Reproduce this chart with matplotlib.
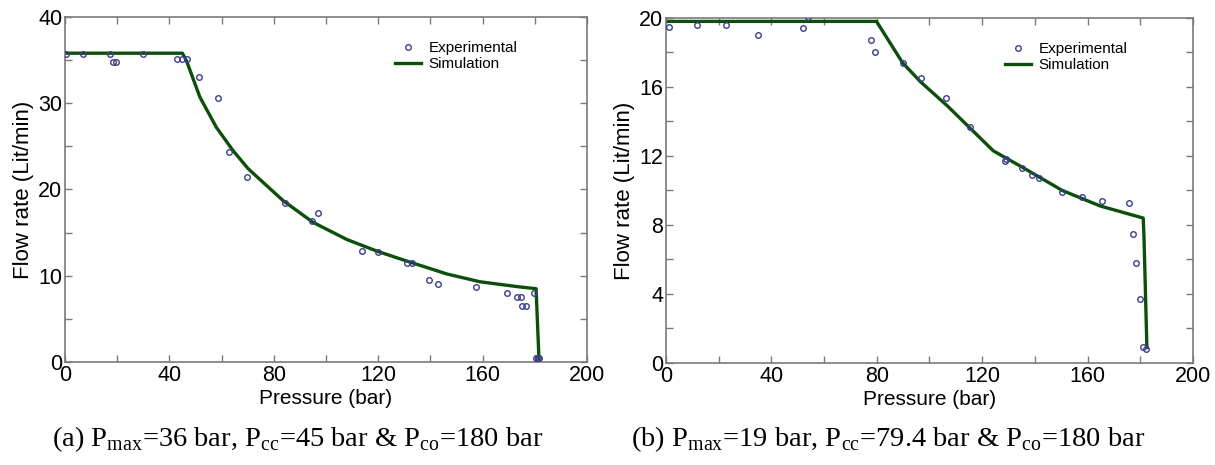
import numpy as np
import matplotlib.pyplot as plt
from matplotlib.ticker import MultipleLocator

plt.rcParams['font.family'] = ['Liberation Sans', 'DejaVu Sans']
plt.rcParams['mathtext.fontset'] = 'custom'
plt.rcParams['mathtext.rm'] = 'Liberation Serif'

# (a) Pmax=36 bar
exp_a_p = [0.4, 7, 17.2, 18.4, 19.5, 30, 42.9, 44.8, 46.7, 51.5, 58.5, 62.7, 69.6, 84.3,
           94.6, 97, 113.8, 120, 131, 133, 139.5, 142.9, 157.5, 169.3, 173.2, 174.7,
           175.1, 176.6, 179.7, 180.6, 181.2, 181.8]
exp_a_q = [35.7, 35.7, 35.7, 34.8, 34.8, 35.7, 35.1, 35.1, 35.1, 33.0, 30.6, 24.3, 21.5, 18.4,
           16.3, 17.3, 12.9, 12.8, 11.5, 11.5, 9.5, 9.0, 8.7, 8.0, 7.5, 7.5,
           6.5, 6.5, 8.0, 0.5, 0.5, 0.5]
sim_a_p = [0, 45, 46.7, 51.7, 58, 64.4, 70.2, 83.6, 95, 108, 120, 133, 146.4, 159, 174.3, 180.5, 181.6]
sim_a_q = [35.8, 35.8, 34.8, 30.7, 27.2, 24.5, 22.4, 18.7, 16.2, 14.2, 12.8, 11.5, 10.2, 9.3, 8.7, 8.5, 0.4]

# (b) Pmax=19 bar
exp_b_p = [1, 11.6, 22.7, 34.8, 51.9, 53.8, 78, 79.5, 89.8, 96.6, 106.4, 115.2, 128.8, 129.2,
           135.2, 139, 141.7, 150.4, 158, 165.5, 175.8, 177.3, 178.4, 179.9, 181.1, 182]
exp_b_q = [19.5, 19.6, 19.6, 19.0, 19.4, 20.05, 18.7, 18.0, 17.4, 16.5, 15.35, 13.7, 11.7, 11.8,
           11.3, 10.9, 10.7, 9.9, 9.6, 9.4, 9.3, 7.5, 5.8, 3.7, 0.9, 0.8]
sim_b_p = [0, 79.9, 89.8, 96.6, 106.8, 115.5, 124.2, 135.2, 150.4, 164.8, 181.1, 181.4, 182.5]
sim_b_q = [19.8, 19.8, 17.4, 16.3, 14.9, 13.6, 12.3, 11.35, 10.0, 9.1, 8.4, 7.3, 0.9]

captions = [r'(a) P$_{\mathrm{max}}$=36 bar, P$_{\mathrm{cc}}$=45 bar & P$_{\mathrm{co}}$=180 bar',
            r'(b) P$_{\mathrm{max}}$=19 bar, P$_{\mathrm{cc}}$=79.4 bar & P$_{\mathrm{co}}$=180 bar']

green = '#0b4f0b'
blue = '#3c3c8c'
grey = '#7a7a7a'

fig = plt.figure(figsize=(12.15, 4.65), dpi=100)
ax1 = fig.add_axes([0.0535, 0.2215, 0.4296, 0.742])
ax2 = fig.add_axes([0.5481, 0.2194, 0.4338, 0.742])

setup = [
    (ax1, exp_a_p, exp_a_q, sim_a_p, sim_a_q, 40, 10, 5, 0.632),
    (ax2, exp_b_p, exp_b_q, sim_b_p, sim_b_q, 20, 4, 2, 0.643),
]

for ax, ep, eq, sp, sq, ymax, ymaj, ymin, lgx in setup:
    ax.plot(ep, eq, linestyle='none', marker='o', markersize=4, mfc='none',
            mec=blue, mew=1.0, label='Experimental', zorder=3)
    ax.plot(sp, sq, color=green, lw=2.4, label='Simulation', zorder=2)
    ax.set_xlim(0, 200)
    ax.set_ylim(0, ymax)
    ax.xaxis.set_major_locator(MultipleLocator(40))
    ax.xaxis.set_minor_locator(MultipleLocator(20))
    ax.yaxis.set_major_locator(MultipleLocator(ymaj))
    ax.yaxis.set_minor_locator(MultipleLocator(ymin))
    ax.tick_params(which='both', direction='in', top=True, right=True,
                   color=grey, length=5, width=1)
    ax.tick_params(which='major', labelsize=15.5, pad=2)
    for s in ax.spines.values():
        s.set_color(grey)
        s.set_linewidth(1.2)
    ax.set_xlabel('Pressure (bar)', fontsize=15, labelpad=2)
    ax.set_ylabel('Flow rate (Lit/min)', fontsize=16, labelpad=3)
    ax.legend(loc='upper left', bbox_to_anchor=(lgx, 0.93), frameon=False,
              fontsize=11, handlelength=1.7, handletextpad=0.5,
              borderpad=0, borderaxespad=0, labelspacing=0.15)

fig.text(0.245, 0.055, captions[0], fontsize=20.5, family='Liberation Serif', ha='center', va='center')
fig.text(0.731, 0.055, captions[1], fontsize=20.5, family='Liberation Serif', ha='center', va='center')

fig.savefig('out.png', dpi=100)
